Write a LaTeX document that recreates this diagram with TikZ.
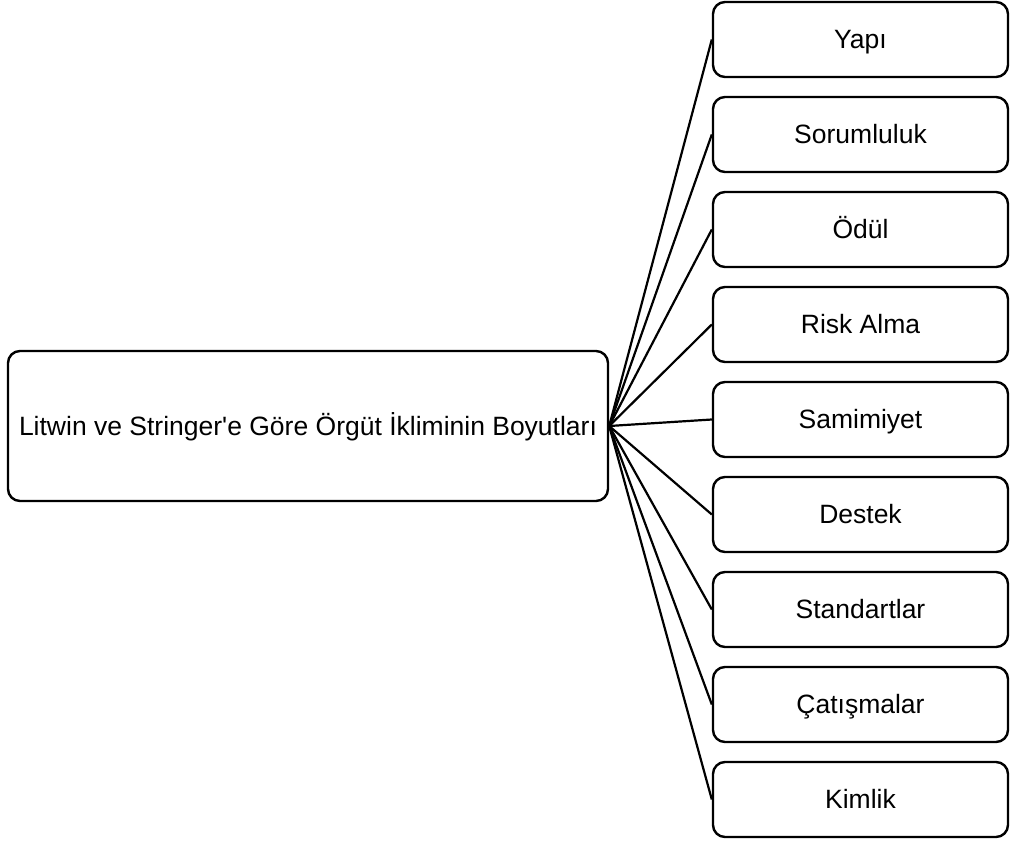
\documentclass[tikz,border=0pt]{standalone}
\usepackage{fontspec}
% plain family: keeps the straight apostrophe
\newfontfamily\labelfont{Liberation Sans}
\begin{document}
\begin{tikzpicture}[x=1pt,y=-1pt,
  box/.style={draw=black, line width=2.4pt, rounded corners=12pt, fill=white,
    inner sep=0pt, align=center, text height=19pt, text depth=1pt,
    font=\labelfont\fontsize{26.5}{30}\selectfont},
  dimbox/.style={box, minimum width=295pt, minimum height=75pt},
  rootbox/.style={box, minimum width=600pt, minimum height=150pt},
  link/.style={draw=black, line width=2.2pt}]
  \useasboundingbox (0,0) rectangle (1011,842);
  \node[rootbox] (root) at (308,426) {Litwin ve Stringer'e Göre Örgüt İkliminin Boyutları};
  \foreach \name/\txt [count=\i from 0] in {d1/Yapı, d2/Sorumluluk, d3/Ödül, d4/Risk Alma,
      d5/Samimiyet, d6/Destek, d7/Standartlar, d8/Çatışmalar, d9/Kimlik} {
    \node[dimbox] (\name) at (860.5,{39.5+95*\i}) {\txt};
    \draw[link] (root.east) -- (\name.west);
  }
\end{tikzpicture}
\end{document}
